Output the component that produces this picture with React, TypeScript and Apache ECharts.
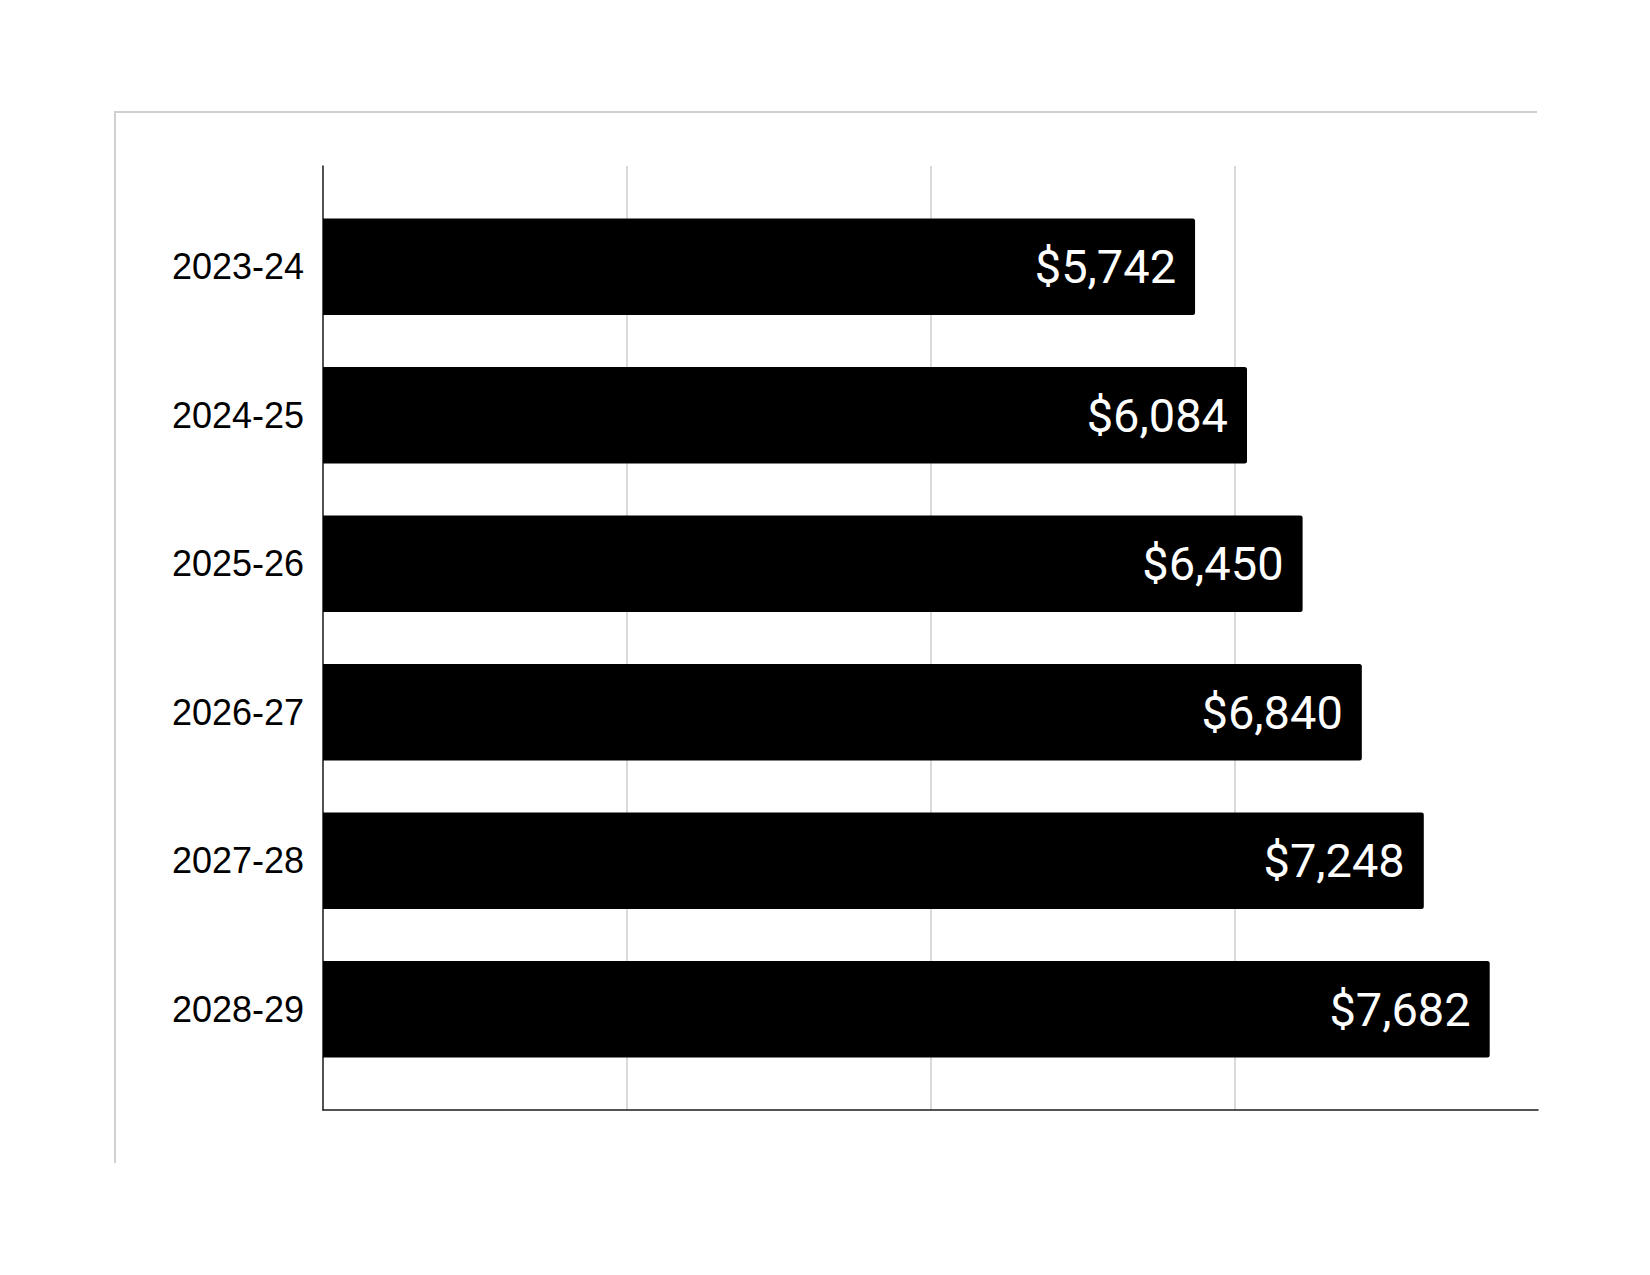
import React, { useEffect, useRef } from "react";
import * as echarts from "echarts";

const categories = ["2023-24", "2024-25", "2025-26", "2026-27", "2027-28", "2028-29"];
const values = [5742, 6084, 6450, 6840, 7248, 7682];
const axisMin = 0;
const axisMax = 8000;
const axisInterval = 2000;

export default function App() {
  const ref = useRef<HTMLDivElement>(null);
  useEffect(() => {
    if (!ref.current) return;
    const chart = echarts.init(ref.current, undefined, { renderer: "svg" });
    const left = 323;
    const right = 112;
    chart.setOption({
      animation: false,
      backgroundColor: "#ffffff",
      grid: [
        { left, right, top: 166, bottom: 165 },
        { left, right, top: 192.5, height: 891 },
      ],
      xAxis: [
        {
          gridIndex: 0,
          type: "value",
          min: axisMin,
          max: axisMax,
          interval: axisInterval,
          axisLabel: { show: false },
          axisTick: { show: false },
          axisLine: { show: true, lineStyle: { color: "#1a1a1a", width: 1.5 } },
          splitLine: {
            show: true,
            showMinLine: false,
            showMaxLine: false,
            lineStyle: { color: "#cccccc", width: 1.5 },
          },
        },
        {
          gridIndex: 1,
          type: "value",
          min: axisMin,
          max: axisMax,
          interval: axisInterval,
          show: false,
          splitLine: { show: false },
        },
      ],
      yAxis: [
        {
          gridIndex: 0,
          type: "value",
          min: 0,
          max: 1,
          axisLabel: { show: false },
          axisTick: { show: false },
          splitLine: { show: false },
          axisLine: { show: true, lineStyle: { color: "#1a1a1a", width: 1.5 } },
        },
        {
          gridIndex: 1,
          type: "category",
          inverse: true,
          data: categories,
          axisLine: { show: false },
          axisTick: { show: false },
          splitLine: { show: false },
          axisLabel: {
            color: "#000000",
            fontSize: 36,
            fontFamily: "Liberation Sans, Arial, sans-serif",
            margin: 19,
          },
        },
      ],
      series: [
        {
          type: "bar",
          xAxisIndex: 1,
          yAxisIndex: 1,
          data: values,
          barWidth: 96.5,
          itemStyle: { color: "#000000", borderRadius: [0, 2.5, 2.5, 0] },
          label: {
            show: true,
            position: "insideRight",
            distance: 19,
            color: "#ffffff",
            fontSize: 47,
            fontFamily: "Roboto, sans-serif",
            formatter: (p: any) => "$" + Number(p.value).toLocaleString("en-US"),
          },
        },
      ],
      graphic: [
        {
          type: "line",
          shape: { x1: 115, y1: 112, x2: 1537, y2: 112 },
          style: { stroke: "#d0d0d0", lineWidth: 2 },
          silent: true,
        },
        {
          type: "line",
          shape: { x1: 115, y1: 111, x2: 115, y2: 1163 },
          style: { stroke: "#d0d0d0", lineWidth: 2 },
          silent: true,
        },
      ],
    });
    return () => chart.dispose();
  }, []);
  return (
    <div
      ref={ref}
      style={{ position: "fixed", left: 0, top: 0, width: 1650, height: 1275, background: "#fff" }}
    />
  );
}
